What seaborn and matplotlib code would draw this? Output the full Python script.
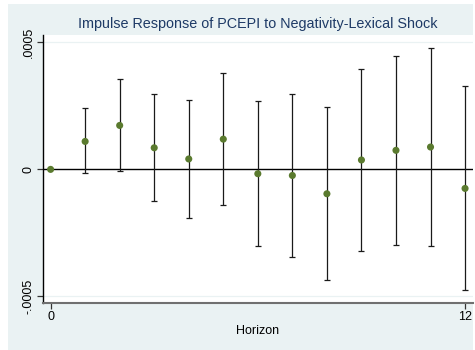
import numpy as np
import pandas as pd
import matplotlib
matplotlib.use("Agg")
import matplotlib.pyplot as plt
from matplotlib.patches import Rectangle
import seaborn as sns

# Impulse response estimates with confidence bounds, by horizon
horizon = [0, 1, 2, 3, 4, 5, 6, 7, 8, 9, 10, 11, 12]
irf = [0.0, 1.10e-4, 1.73e-4, 0.85e-4, 0.41e-4, 1.19e-4, -0.17e-4,
       -0.24e-4, -0.96e-4, 0.37e-4, 0.75e-4, 0.88e-4, -0.75e-4]
upper = [0.0, 2.43e-4, 3.54e-4, 2.95e-4, 2.74e-4, 3.79e-4, 2.70e-4,
         2.95e-4, 2.46e-4, 3.94e-4, 4.46e-4, 4.78e-4, 3.27e-4]
lower = [0.0, -0.16e-4, -0.08e-4, -1.24e-4, -1.93e-4, -1.39e-4, -3.03e-4,
         -3.43e-4, -4.37e-4, -3.20e-4, -2.97e-4, -3.02e-4, -4.75e-4]
ytick_vals = [-0.0005, 0.0, 0.0005]
ytick_labels = ["-.0005", "0", ".0005"]
xtick_vals = [0, 12]
xtick_labels = ["0", "12"]

df = pd.DataFrame({"horizon": horizon, "irf": irf, "upper": upper, "lower": lower})

sns.set_theme(style="white")
plt.rcParams["font.family"] = ["Liberation Sans", "DejaVu Sans"]

W, H = 475, 350
fig = plt.figure(figsize=(W / 100, H / 100), dpi=100, facecolor="white")
# outer graph region, drawn beneath the axes
fig.patches.append(Rectangle((8 / W, 0), (473 - 8) / W, (H - 4) / H,
                             transform=fig.transFigure, facecolor="#EAF2F3",
                             edgecolor="none", zorder=-10))

ax = fig.add_axes([43 / W, (H - 303) / H, (473 - 43) / W, (303 - 35) / H])
ax.set_facecolor("white")

# confidence intervals (skip horizon 0, which has zero width)
ci = df[df["horizon"] > 0]
ax.errorbar(ci["horizon"], ci["irf"],
            yerr=[ci["irf"] - ci["lower"], ci["upper"] - ci["irf"]],
            fmt="none", ecolor="#1a1a1a", elinewidth=0.9, capsize=2.0,
            capthick=0.9, zorder=2)

ax.axhline(0, color="black", lw=1.0, zorder=1.5)
for v in (-0.0005, 0.0005):
    ax.axhline(v, color="#EAF2F3", lw=0.9, zorder=1)

sns.scatterplot(data=df, x="horizon", y="irf", ax=ax, color="#5A7A2E",
                s=26, edgecolor="none", zorder=3, legend=False)

ax.set_xlim(-0.22, 12.23)
ax.set_ylim(-0.000526, 0.000529)
ax.set_yticks(ytick_vals)
ax.set_yticklabels(ytick_labels, rotation=90, va="center", fontsize=9)
ax.set_xticks(xtick_vals)
ax.set_xticklabels(xtick_labels, fontsize=9)
ax.tick_params(axis="both", direction="out", length=4, width=0.9,
               color="#333333", labelcolor="black", pad=2,
               left=True, bottom=True)

for side in ("top", "right"):
    ax.spines[side].set_visible(False)
ax.spines["left"].set_color("black")
ax.spines["left"].set_linewidth(1.0)
ax.spines["bottom"].set_color("#707070")
ax.spines["bottom"].set_linewidth(1.5)

ax.set_xlabel("Horizon", fontsize=9, color="black", labelpad=1)
ax.set_ylabel("")
ax.set_title("Impulse Response of PCEPI to Negativity-Lexical Shock",
             fontsize=10.4, color="#1E3A66", pad=5)

fig.savefig("out.png", dpi=100, facecolor=fig.get_facecolor())
